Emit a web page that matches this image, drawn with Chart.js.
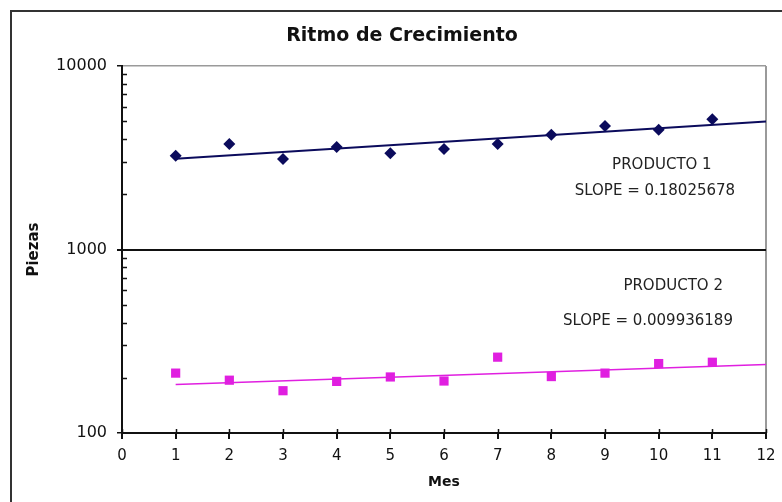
<!DOCTYPE html>
<html>
<head>
<meta charset="utf-8">
<script src="https://cdn.jsdelivr.net/npm/chart.js@4.4.0/dist/chart.umd.min.js"></script>
<style>
  html, body { margin: 0; padding: 0; background: #fff; overflow: hidden; }
  #wrap { width: 782px; height: 502px; }
</style>
</head>
<body>
<div id="wrap"><canvas id="chart1" width="782" height="502"></canvas></div>
<script>
// data
const months = [1, 2, 3, 4, 5, 6, 7, 8, 9, 10, 11];
const producto1 = [3245, 3757, 3113, 3620, 3342, 3530, 3757, 4225, 4710, 4498, 5120];
const producto2 = [212, 194, 170, 191, 202, 192, 259, 203, 212, 239, 243];
const trendMonths = [1, 12];
const trend1 = [3125, 4980];
const trend2 = [184, 236];
const xTicks = [0, 1, 2, 3, 4, 5, 6, 7, 8, 9, 10, 11, 12];
const yTicks = [100, 200, 300, 400, 500, 600, 700, 800, 900,
  1000, 2000, 3000, 4000, 5000, 6000, 7000, 8000, 9000, 10000];
const yLabels = [100, 1000, 10000];

const chartTitle = 'Ritmo de Crecimiento';
const notes = [
  { text: 'PRODUCTO 1', x: 10.06, y: 2887 },
  { text: 'SLOPE = 0.18025678', x: 9.93, y: 2084 },
  { text: 'PRODUCTO 2', x: 10.27, y: 632 },
  { text: 'SLOPE = 0.009936189', x: 9.80, y: 408 }
];

const navy = '#0b0b5c';
const magenta = '#e01fe0';
const ink = '#111';

const toPoints = (xs, ys) => xs.map((x, i) => ({ x: x, y: ys[i] }));

// frame, title, text notes and the small inner ticks
const extras = {
  id: 'extras',
  beforeDraw(chart) {
    const ctx = chart.ctx;
    ctx.save();
    ctx.fillStyle = '#fff';
    ctx.fillRect(0, 0, chart.width, chart.height);
    ctx.strokeStyle = '#333';
    ctx.lineWidth = 2;
    ctx.beginPath();
    ctx.moveTo(11, chart.height);
    ctx.lineTo(11, 11);
    ctx.lineTo(chart.width, 11);
    ctx.stroke();
    ctx.restore();
  },
  afterDraw(chart) {
    const ctx = chart.ctx;
    const xs = chart.scales.x;
    const ys = chart.scales.y;
    ctx.save();
    ctx.fillStyle = ink;
    ctx.textAlign = 'center';
    ctx.textBaseline = 'middle';
    ctx.font = 'bold 19px "DejaVu Sans"';
    ctx.fillText(chartTitle, 402, 36);

    ctx.font = '15px "DejaVu Sans"';
    ctx.fillStyle = '#222';
    notes.forEach(n => {
      ctx.fillText(n.text, xs.getPixelForValue(n.x), ys.getPixelForValue(n.y));
    });

    // minor y ticks on the inside of the axis
    ctx.strokeStyle = ink;
    ctx.lineWidth = 1.5;
    ctx.beginPath();
    yTicks.filter(v => !yLabels.includes(v)).forEach(v => {
      const py = Math.round(ys.getPixelForValue(v)) + 0.5;
      ctx.moveTo(xs.left, py);
      ctx.lineTo(xs.left + 5, py);
    });
    // x ticks cross the axis
    xTicks.forEach(v => {
      const px = Math.round(xs.getPixelForValue(v)) + 0.5;
      ctx.moveTo(px, ys.bottom);
      ctx.lineTo(px, ys.bottom - 4);
    });
    ctx.stroke();
    ctx.restore();
  }
};

const ctx = document.getElementById('chart1').getContext('2d');
new Chart(ctx, {
  type: 'scatter',
  data: {
    datasets: [{
      label: 'PRODUCTO 1',
      data: toPoints(months, producto1),
      pointStyle: 'rectRot',
      pointRadius: 6,
      backgroundColor: navy,
      borderColor: navy,
      borderWidth: 0
    }, {
      label: 'PRODUCTO 2',
      data: toPoints(months, producto2),
      pointStyle: 'rect',
      pointRadius: 6.5,
      backgroundColor: magenta,
      borderColor: magenta,
      borderWidth: 0
    }, {
      type: 'line',
      label: 'Tendencia 1',
      data: toPoints(trendMonths, trend1),
      borderColor: navy,
      borderWidth: 2,
      pointRadius: 0,
      fill: false
    }, {
      type: 'line',
      label: 'Tendencia 2',
      data: toPoints(trendMonths, trend2),
      borderColor: magenta,
      borderWidth: 1.5,
      pointRadius: 0,
      fill: false
    }]
  },
  options: {
    responsive: false,
    animation: false,
    layout: { padding: { left: 22, right: 16, top: 66, bottom: 0 } },
    plugins: {
      legend: { display: false },
      title: { display: false },
      tooltip: { enabled: false }
    },
    scales: {
      x: {
        type: 'linear',
        min: 0,
        max: 12,
        afterBuildTicks: s => { s.ticks = xTicks.map(v => ({ value: v })); },
        afterFit: s => { s.height = 69; s.paddingLeft = 0; s.paddingRight = 0; },
        ticks: {
          autoSkip: false,
          maxRotation: 0,
          padding: 8,
          color: ink,
          font: { family: 'DejaVu Sans', size: 15 }
        },
        grid: {
          color: c => (c.tick && c.tick.value === 12 ? '#9a9a9a' : 'transparent'),
          tickColor: ink,
          tickLength: 6,
          lineWidth: 2
        },
        border: { color: ink, width: 2 },
        title: {
          display: true,
          text: 'Mes',
          color: ink,
          font: { family: 'DejaVu Sans', size: 14, weight: 'bold' },
          padding: { top: 0, bottom: 11 }
        }
      },
      y: {
        type: 'logarithmic',
        min: 100,
        max: 10000,
        afterBuildTicks: s => { s.ticks = yTicks.map(v => ({ value: v, major: yLabels.includes(v) })); },
        afterFit: s => { s.width = 100; },
        ticks: {
          autoSkip: false,
          padding: 10,
          color: ink,
          font: { family: 'DejaVu Sans', size: 16 },
          callback: v => (yLabels.includes(v) ? String(v) : '')
        },
        grid: {
          color: c => {
            if (!c.tick) return 'transparent';
            if (c.tick.value === 10000) return '#9a9a9a';
            if (c.tick.value === 1000) return ink;
            return 'transparent';
          },
          lineWidth: c => (c.tick && c.tick.value === 1000 ? 2 : 1.5),
          tickColor: c => (c.tick && yLabels.includes(c.tick.value) ? ink : 'transparent'),
          tickLength: 5
        },
        border: { color: ink, width: 2 },
        title: {
          display: true,
          text: 'Piezas',
          color: ink,
          font: { family: 'DejaVu Sans', size: 15, weight: 'bold' },
          padding: { top: 3, bottom: 0 }
        }
      }
    }
  },
  plugins: [extras]
});
</script>
</body>
</html>
